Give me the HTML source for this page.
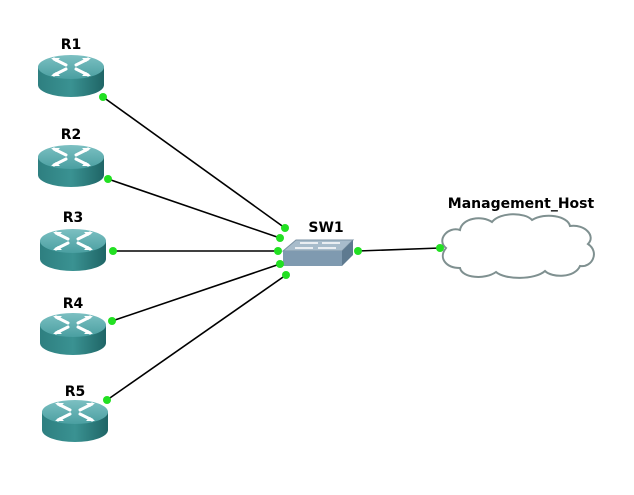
<!DOCTYPE html>
<html><head><style>body{margin:0;background:#fff}svg{display:block}</style></head><body>
<svg width="634" height="495" viewBox="0 0 634 495" xmlns="http://www.w3.org/2000/svg" font-family="DejaVu Sans, sans-serif">
<defs>
<linearGradient id="body" x1="0" x2="1" y1="0" y2="0">
<stop offset="0" stop-color="#2e7f80"/><stop offset="0.5" stop-color="#3a9292"/><stop offset="1" stop-color="#1f6566"/></linearGradient>
<linearGradient id="top" x1="0" x2="0" y1="0" y2="1">
<stop offset="0" stop-color="#7cc0c2"/><stop offset="1" stop-color="#4a9fa1"/></linearGradient>
<g id="rt">
<path d="M0,12 L0,30 A33,12 0 0 0 66,30 L66,12 Z" fill="url(#body)"/>
<ellipse cx="33" cy="12" rx="33" ry="12" fill="url(#top)"/>
<g stroke="#fff" stroke-width="3" fill="none" stroke-linecap="round">
<path d="M16,4 L28,10 M38,14 L50,20 M50,4 L38,10 M28,14 L16,20"/>
</g>
<g fill="#fff"><path d="M13,3 l9,0 l-4,4z M53,3 l-9,0 l4,4z M13,21 l9,0 l-4,-4z M53,21 l-9,0 l4,-4z"/></g>
</g>
</defs>
<g stroke="#000" stroke-width="1.6">
<line x1="103" y1="97" x2="285" y2="228"/>
<line x1="108" y1="179" x2="280" y2="238"/>
<line x1="113" y1="251" x2="278" y2="251"/>
<line x1="112" y1="321" x2="280" y2="264"/>
<line x1="107" y1="400" x2="286" y2="275"/>
<line x1="358" y1="251" x2="440" y2="248"/>
</g>
<use href="#rt" x="38" y="55"/>
<use href="#rt" x="38" y="145"/>
<use href="#rt" x="40" y="229"/>
<use href="#rt" x="40" y="313"/>
<use href="#rt" x="42" y="400"/>
<g font-weight="bold" font-size="14" text-anchor="middle">
<text x="71" y="49">R1</text><text x="71" y="139">R2</text><text x="73" y="222">R3</text><text x="73" y="308">R4</text><text x="75" y="396">R5</text>
<text x="326" y="232">SW1</text><text x="521" y="208">Management_Host</text>
</g>
<polygon points="296,240 353,240 342,251 283,251" fill="#a8bccb" stroke="#7d93a4"/>
<polygon points="283,251 342,251 342,266 283,266" fill="#7f9ab0"/>
<polygon points="342,251 353,240 353,255 342,266" fill="#5e7a90"/>
<g stroke="#fff" stroke-width="1.5"><line x1="300" y1="243" x2="318" y2="243"/><line x1="322" y1="243" x2="340" y2="243"/><line x1="295" y1="248" x2="313" y2="248"/><line x1="318" y1="248" x2="336" y2="248"/></g>
<path d="M446,248 C436,240 448,226 460,230 C462,218 482,215 492,222 C500,212 525,212 532,220 C545,212 568,216 570,226 C585,224 596,236 588,244 C600,252 592,268 580,266 C575,278 552,278 545,271 C535,280 505,280 496,272 C485,280 462,278 460,268 C446,268 438,258 446,248 Z" fill="#fff" stroke="#7f9090" stroke-width="2"/>
<g fill="#22e022">
<circle cx="103" cy="97" r="4"/><circle cx="108" cy="179" r="4"/><circle cx="113" cy="251" r="4"/><circle cx="112" cy="321" r="4"/><circle cx="107" cy="400" r="4"/>
<circle cx="285" cy="228" r="4"/><circle cx="280" cy="238" r="4"/><circle cx="278" cy="251" r="4"/><circle cx="280" cy="264" r="4"/><circle cx="286" cy="275" r="4"/>
<circle cx="358" cy="251" r="4"/><circle cx="440" cy="248" r="4"/>
</g>
</svg>
</body></html>
